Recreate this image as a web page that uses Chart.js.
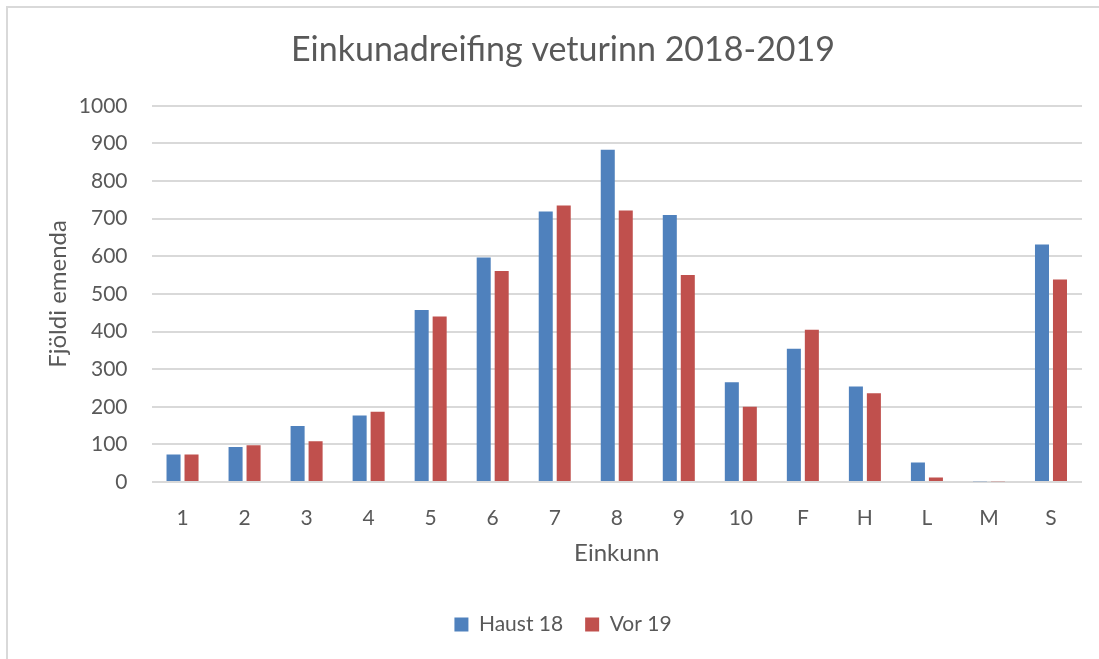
<!DOCTYPE html>
<html>
<head>
<meta charset="utf-8">
<script src="https://cdn.jsdelivr.net/npm/chart.js@4.4.1/dist/chart.umd.min.js"></script>
<style>
  html, body { margin:0; padding:0; background:#fff; }
  #frame { position:absolute; left:6px; top:6px; width:1100px; height:660px;
           border-left:2px solid #d9d9d9; border-top:2px solid #d9d9d9; }
  #wrap { position:absolute; left:0; top:0; width:1099px; height:659px; }
</style>
</head>
<body>
<div id="frame"></div>
<div id="wrap"><canvas id="chart"></canvas></div>
<script>
const grades = ["1","2","3","4","5","6","7","8","9","10","F","H","L","M","S"];
const haust18 = [73, 93, 149, 177, 457, 597, 719, 883, 710, 265, 354, 254, 52, 2, 631];
const vor19   = [73, 98, 108, 187, 440, 561, 735, 722, 550, 200, 405, 236, 12, 2, 538];
const yTicks  = [0, 100, 200, 300, 400, 500, 600, 700, 800, 900, 1000];

const txt = "#595959";
const fam = "Lato, 'Open Sans', sans-serif";

function $(id){ return document.getElementById(id); }

Chart.defaults.font.family = fam;
Chart.defaults.color = txt;

new Chart($("chart"), {
  type: "bar",
  data: {
    labels: grades,
    datasets: [
      { label: "Haust 18", data: haust18, backgroundColor: "#4f81bd",
        categoryPercentage: 0.58, barPercentage: 0.78 },
      { label: "Vor 19", data: vor19, backgroundColor: "#c0504d",
        categoryPercentage: 0.58, barPercentage: 0.78 }
    ]
  },
  options: {
    responsive: true,
    maintainAspectRatio: false,
    animation: false,
    layout: { padding: { left: 44, right: 17, top: 30, bottom: 14 } },
    plugins: {
      title: {
        display: true,
        text: "Einkunadreifing veturinn 2018-2019",
        color: txt,
        font: { size: 34, weight: "normal" },
        padding: { top: 0, bottom: 35 }
      },
      legend: {
        position: "bottom",
        labels: { boxWidth: 14, boxHeight: 14, font: { size: 21 }, color: txt, padding: 22 }
      },
      tooltip: { enabled: false }
    },
    scales: {
      x: {
        grid: { display: false, drawTicks: false },
        border: { display: false },
        ticks: { font: { size: 21 }, color: txt, padding: 24 },
        title: { display: true, text: "Einkunn", font: { size: 24 }, color: txt, padding: { top: -16, bottom: 24 } }
      },
      y: {
        min: 0, max: 1000,
        afterBuildTicks: axis => { axis.ticks = yTicks.map(v => ({ value: v })); },
        grid: { color: "#d9d9d9", lineWidth: 2, drawTicks: false },
        border: { display: false },
        ticks: { font: { size: 21 }, color: txt, padding: 24, callback: v => String(v) },
        title: { display: true, text: "Fjöldi emenda", font: { size: 24 }, color: txt, padding: { top: 0, bottom: -18 } }
      }
    }
  }
});
</script>
</body>
</html>
